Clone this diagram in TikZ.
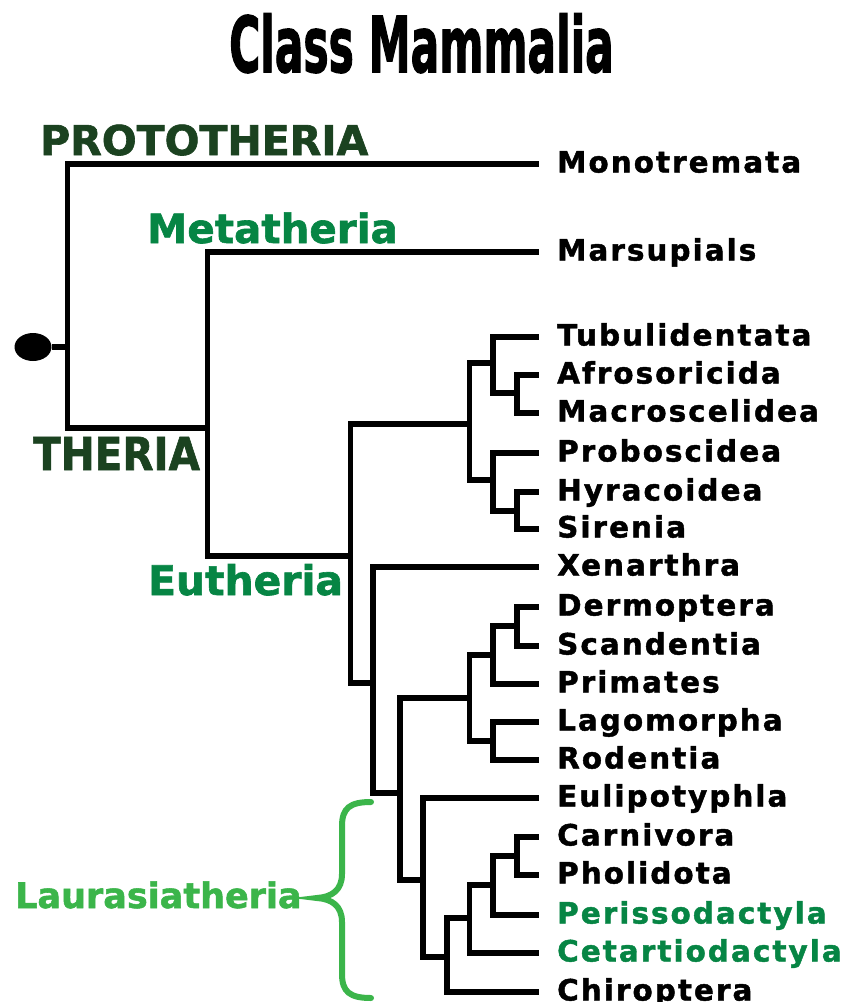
\documentclass[tikz,border=0pt]{standalone}
\usepackage{fontspec}
\newfontfamily\labfont{DejaVu Sans Bold}[FakeBold=1.5]
\newfontfamily\titlefont{DejaVu Sans Bold}[FakeBold=2]
\newfontfamily\leaffont{DejaVu Sans Bold}[LetterSpace=7,FakeBold=1.5]
\usetikzlibrary{shapes.geometric}
\definecolor{dkgreen}{RGB}{27,66,32}
\definecolor{midgreen}{RGB}{6,133,68}
\definecolor{ltgreen}{RGB}{59,181,74}
\begin{document}
\begin{tikzpicture}[x=1pt,y=-1pt,
  branch/.style={draw=black, line width=5.5pt, line join=miter},
  leaf/.style={anchor=west, inner xsep=18pt, inner ysep=0pt, text height=17pt, text depth=0pt,
    font=\leaffont\fontsize{29.4}{29.4}\selectfont},
  grp/.style={anchor=base west, inner sep=0pt, font=\labfont\fontsize{41}{41}\selectfont},
  bracestyle/.style={draw=ltgreen, line width=6pt, line cap=round}
]
\useasboundingbox (0,0) rectangle (842,1002);
\fill[white] (0,0) rectangle (842,1002);

% title
\node[anchor=base, inner sep=0pt, font=\titlefont\fontsize{77}{77}\selectfont] (title) at (421.5,72) {\scalebox{0.55}[1]{Class Mammalia}};

% group labels
\node[grp, text=dkgreen] (proto) at (40,155) {PROTOTHERIA};
\node[grp, text=midgreen, font=\labfont\fontsize{40.4}{40.4}\selectfont] (meta) at (147,243) {Metatheria};
\node[grp, text=dkgreen, font=\labfont\fontsize{40.5}{40.5}\selectfont] (ther) at (33,470) {\scalebox{1}[1.12]{THERIA}};
\node[grp, text=midgreen, font=\labfont\fontsize{40.8}{40.8}\selectfont] (euth) at (148,595) {Eutheria};
\node[grp, text=ltgreen, font=\labfont\fontsize{35}{35}\selectfont] (laurl) at (15,908) {Laurasiatheria};

% leaves
\node[leaf] (mono) at (539,164) {Monotremata};
\node[leaf] (mars) at (539,252) {Marsupials};
\node[leaf] (tub) at (539,337) {Tubulidentata};
\node[leaf] (afr) at (539,375) {Afrosoricida};
\node[leaf] (mac) at (539,413) {Macroscelidea};
\node[leaf] (pro) at (539,453) {Proboscidea};
\node[leaf] (hyr) at (539,492) {Hyracoidea};
\node[leaf] (sir) at (539,529) {Sirenia};
\node[leaf] (xen) at (539,567) {Xenarthra};
\node[leaf] (der) at (539,607) {Dermoptera};
\node[leaf] (sca) at (539,646) {Scandentia};
\node[leaf] (pri) at (539,684) {Primates};
\node[leaf] (lag) at (539,722) {Lagomorpha};
\node[leaf] (rod) at (539,760) {Rodentia};
\node[leaf] (eul) at (539,798) {Eulipotyphla};
\node[leaf] (car) at (539,837) {Carnivora};
\node[leaf] (pho) at (539,875) {Pholidota};
\node[leaf, text=midgreen] (per) at (539,915) {Perissodactyla};
\node[leaf, text=midgreen] (cet) at (539,953) {Cetartiodactyla};
\node[leaf] (chi) at (539,992) {Chiroptera};

% internal nodes
\coordinate (root) at (67.5,347);
\coordinate (theria) at (207.5,428);
\coordinate (eutheria) at (350.5,556);
\coordinate (afro) at (469.5,424);
\coordinate (n1) at (493,363);
\coordinate (n1a) at (517,393);
\coordinate (n2) at (493,480);
\coordinate (n2a) at (517,511);
\coordinate (xb) at (373,683);
\coordinate (bor) at (400,793);
\coordinate (euarch) at (469.5,698);
\coordinate (ea) at (493,655);
\coordinate (ea1) at (517,626);
\coordinate (gl) at (493,741);
\coordinate (laur) at (423,880);
\coordinate (l1) at (447,957);
\coordinate (l2) at (469.5,918);
\coordinate (l3) at (493,885);
\coordinate (l4) at (517,856);

% root dot
\node[ellipse, fill=black, minimum width=37pt, minimum height=28pt, inner sep=0pt] (dot) at (33,347) {};
\draw[branch] (dot) -- (root);

% connectors
\draw[branch] (root) |- (mono.west);
\draw[branch] (root) |- (theria);
\draw[branch] (theria) |- (mars.west);
\draw[branch] (theria) |- (eutheria);
\draw[branch] (eutheria) |- (afro);
\draw[branch] (eutheria) |- (xb);
\draw[branch] (afro) |- (n1);
\draw[branch] (afro) |- (n2);
\draw[branch] (n1) |- (tub.west);
\draw[branch] (n1) |- (n1a);
\draw[branch] (n1a) |- (afr.west);
\draw[branch] (n1a) |- (mac.west);
\draw[branch] (n2) |- (pro.west);
\draw[branch] (n2) |- (n2a);
\draw[branch] (n2a) |- (hyr.west);
\draw[branch] (n2a) |- (sir.west);
\draw[branch] (xb) |- (xen.west);
\draw[branch] (xb) |- (bor);
\draw[branch] (bor) |- (euarch);
\draw[branch] (bor) |- (laur);
\draw[branch] (euarch) |- (ea);
\draw[branch] (euarch) |- (gl);
\draw[branch] (ea) |- (ea1);
\draw[branch] (ea) |- (pri.west);
\draw[branch] (ea1) |- (der.west);
\draw[branch] (ea1) |- (sca.west);
\draw[branch] (gl) |- (lag.west);
\draw[branch] (gl) |- (rod.west);
\draw[branch] (laur) |- (eul.west);
\draw[branch] (laur) |- (l1);
\draw[branch] (l1) |- (l2);
\draw[branch] (l1) |- (chi.west);
\draw[branch] (l2) |- (l3);
\draw[branch] (l2) |- (cet.west);
\draw[branch] (l3) |- (l4);
\draw[branch] (l3) |- (per.west);
\draw[branch] (l4) |- (car.west);
\draw[branch] (l4) |- (pho.west);

% brace
\draw[bracestyle] (371,802) .. controls (350,802) and (342,808) .. (342,826)
  -- (342,874) .. controls (342,890) and (332,897) .. (317,898)
  .. controls (332,899) and (342,906) .. (342,922)
  -- (342,974) .. controls (342,992) and (350,998) .. (371,998);
\end{tikzpicture}
\end{document}
